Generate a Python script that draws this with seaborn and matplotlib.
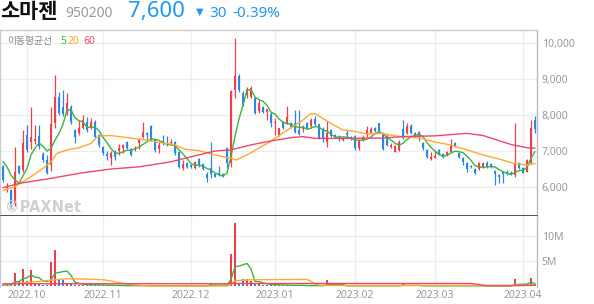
import numpy as np
import pandas as pd
import matplotlib
matplotlib.use("Agg")
import matplotlib.pyplot as plt
import seaborn as sns

# ---------------- data ----------------
opens = [6580, 5960, 5920, 5560, 6580, 6470, 7440, 7260, 7280, 7420,
         6910, 6750, 6610, 7770, 8490, 8230, 8090, 8230, 7580, 7490,
         7650, 7810, 7630, 7810, 7440, 7100, 6920, 6800, 6960, 7000,
         7090, 7240, 7050, 7050, 7230, 7380, 7510, 7700, 7310, 7050,
         7280, 7230, 7210, 7260, 6980, 6520, 6660, 6610, 6520, 6770,
         6640, 6360, 6520, 6350, 6400, 6360, 7090, 6660, 8690, 9090,
         8600, 8560, 8510, 8480, 8110, 8230, 8090, 8020, 7770, 7440,
         7800, 7770, 7770, 7770, 7580, 7600, 7770, 7690, 7900, 7740,
         7600, 7260, 7580, 7440, 7400, 7300, 7490, 7380, 7420, 7070,
         7300, 7440, 7510, 7630, 7770, 7510, 7420, 7100, 6980, 7030,
         7600, 7490, 7690, 7510, 7540, 7230, 7030, 6770, 6810, 7030,
         6920, 6890, 6980, 7210, 6950, 6800, 6680, 6580, 6490, 6490,
         6560, 6680, 6640, 6440, 6330, 6430, 6410, 6400, 6330, 6680,
         6520, 6430, 6660, 7860]
highs = [6620, 6100, 5950, 7100, 6620, 7580, 7720, 8230, 7720, 7720,
         6960, 6900, 8230, 9110, 8650, 8680, 8600, 8280, 7620, 7860,
         8000, 7950, 7920, 7860, 7480, 7130, 6990, 7000, 7030, 7190,
         7190, 7280, 7090, 7130, 7370, 7810, 7540, 7720, 7330, 7260,
         7450, 7410, 7330, 7280, 7000, 6750, 6700, 6640, 6720, 6800,
         6660, 6430, 7260, 6380, 6570, 6400, 7120, 8700, 10130, 9130,
         8660, 8780, 8800, 8500, 8410, 8260, 8170, 8090, 7910, 7650,
         7830, 8260, 7800, 8140, 8140, 7720, 7800, 7920, 7960, 7760,
         7670, 7840, 7620, 7480, 7450, 7380, 7580, 7410, 7450, 7330,
         7440, 7690, 7670, 7680, 7790, 7530, 7460, 7230, 7160, 7310,
         7860, 7780, 7740, 7540, 7560, 7260, 7060, 6980, 7020, 7050,
         6940, 7000, 7320, 7260, 6980, 6830, 6700, 6620, 6530, 6700,
         6700, 6720, 6660, 6470, 6350, 6450, 6460, 6440, 7770, 6700,
         6550, 6780, 7860, 7970]
lows = [6150, 5870, 5450, 5480, 6350, 6430, 6980, 7060, 7200, 7050,
        6700, 6350, 6450, 7650, 8000, 7960, 8000, 7760, 7230, 7440,
        7620, 7540, 7600, 7360, 7120, 6900, 6760, 6610, 6760, 6890,
        6950, 7050, 6850, 7000, 7060, 7350, 7300, 7290, 6980, 6940,
        7170, 7130, 7170, 6900, 6540, 6470, 6540, 6540, 6500, 6560,
        6470, 6150, 6260, 6270, 6300, 6290, 6540, 6560, 8460, 8640,
        8260, 8470, 8480, 8020, 8050, 8050, 7860, 7680, 7440, 7420,
        7600, 7740, 7650, 7500, 7440, 7540, 7620, 7650, 7700, 7320,
        7260, 7120, 7380, 7360, 7270, 7270, 7400, 7300, 7030, 7040,
        7280, 7400, 7490, 7530, 7490, 7020, 7130, 7080, 6960, 7000,
        7330, 7470, 7460, 7380, 7270, 7040, 6800, 6750, 6800, 6900,
        6800, 6870, 6960, 7100, 6800, 6600, 6420, 6530, 6350, 6470,
        6540, 6540, 6540, 6060, 6120, 6120, 6340, 6340, 6290, 6500,
        6380, 6420, 6640, 7510]
closes = [6200, 6010, 5500, 6430, 6380, 7230, 7030, 7400, 7320, 7140,
          6750, 6380, 7760, 8490, 8050, 8030, 8320, 7810, 7400, 7650,
          7860, 7580, 7810, 7400, 7170, 6935, 6860, 6950, 6840, 7070,
          7170, 7090, 6890, 7090, 7300, 7540, 7440, 7310, 7030, 7170,
          7210, 7190, 7260, 6935, 6560, 6640, 6560, 6560, 6700, 6580,
          6490, 6240, 6350, 6290, 6330, 6310, 6660, 8670, 9080, 8690,
          8300, 8720, 8740, 8050, 8320, 8070, 8170, 7770, 7810, 7630,
          7630, 7950, 7680, 7540, 7460, 7680, 7650, 7860, 7740, 7350,
          7320, 7490, 7420, 7380, 7320, 7350, 7440, 7320, 7070, 7300,
          7380, 7580, 7600, 7560, 7560, 7050, 7170, 7170, 7140, 7260,
          7350, 7690, 7490, 7400, 7380, 7070, 6820, 6840, 6860, 6920,
          6820, 6980, 7140, 7120, 6840, 6700, 6490, 6550, 6380, 6660,
          6660, 6560, 6560, 6360, 6290, 6360, 6360, 6360, 6680, 6520,
          6400, 6750, 7630, 7620]
volumes_m = [0.3, 0.25, 0.3, 2.7, 1.0, 3.4, 1.0, 3.2, 0.5, 0.5,
             0.3, 0.2, 4.8, 7.2, 1.2, 1.2, 0.7, 0.5, 0.3, 0.3,
             0.3, 0.25, 0.4, 0.25, 0.2, 0.2, 0.15, 0.15, 0.12, 0.12,
             0.12, 0.1, 0.1, 0.1, 0.1, 0.15, 0.1, 0.1, 0.1, 0.08,
             0.08, 0.08, 0.08, 0.08, 0.1, 0.08, 0.08, 0.08, 0.08, 0.08,
             0.08, 0.1, 0.7, 0.1, 0.08, 0.08, 0.1, 6.5, 12.7, 0.7,
             1.4, 1.4, 1.0, 0.4, 0.4, 0.3, 0.3, 0.4, 0.2, 0.15,
             0.15, 0.3, 0.12, 0.2, 0.15, 0.12, 0.1, 0.12, 0.1, 0.12,
             0.12, 1.2, 0.12, 0.1, 0.1, 0.08, 0.08, 0.08, 0.1, 0.1,
             0.08, 0.1, 0.08, 0.08, 0.08, 0.1, 0.08, 0.08, 0.08, 0.08,
             0.5, 0.1, 0.08, 0.08, 0.08, 0.08, 0.08, 0.08, 0.08, 0.08,
             0.08, 0.08, 0.1, 0.08, 0.08, 0.08, 0.08, 0.08, 0.08, 0.08,
             0.08, 0.08, 0.08, 0.08, 0.08, 0.08, 0.08, 0.08, 1.4, 0.2,
             0.2, 0.4, 1.7, 0.4]

# moving averages (sample positions, values)
ma5_head = [6710, 6560, 6330, 6200]   # first points of the 5-day line (need earlier history)
ma20_idx = [0, 3, 7, 10, 12, 13.5, 16, 19, 22, 23.4, 25, 27, 30.5, 35.5, 40.5, 43, 45.5, 49, 53,
            56.75, 58.4, 61.75, 66.75, 71.75, 75, 76.75, 78, 81.3, 84.7, 88, 91.3, 94.7, 98,
            101.3, 104.5, 107.6, 111.75, 116, 120, 124.25, 127.6, 131, 133]
ma20_val = [5900, 6010, 6290, 6520, 6700, 6935, 7030, 7090, 7210, 7380, 7420, 7430, 7380, 7310, 7210, 7170, 7050, 7010, 6890,
            6800, 6750, 6935, 7260, 7630, 7860, 8030, 8040, 7810, 7600, 7540, 7470, 7490, 7420,
            7390, 7350, 7260, 7170, 7030, 6890, 6770, 6660, 6610, 6650]
ma60_idx = [0, 4, 12, 19, 27, 34, 42, 47, 53, 57, 62, 67, 72, 75, 78, 85, 95, 100, 108, 116, 120, 127, 131, 133]
ma60_val = [5980, 6100, 6240, 6380, 6500, 6560, 6700, 6840, 7000, 7030, 7170, 7280, 7370, 7400, 7350, 7350,
            7360, 7400, 7420, 7490, 7430, 7180, 7090, 7080]
vma20_idx = [0, 4, 8, 12, 16, 22, 25, 28, 32, 37, 56, 57, 58, 62, 76, 77, 78, 80, 100, 128, 133]
vma20_val = [0.4, 0.6, 0.9, 1.2, 1.5, 1.4, 1.3, 0.9, 0.3, 0.05, 0.05, 0.4, 1.1, 1.3, 1.35, 1.0, 0.4, 0.15, 0.15, 0.2, 0.25]
vma60_idx = [0, 56, 57, 58, 117, 121, 127, 133]
vma60_val = [0.5, 0.5, 0.55, 0.55, 0.55, 0.1, 0.1, 0.2]

month_pos = [6, 25, 47, 68, 88, 108, 130]
month_labels = ["2022.10", "2022.11", "2022.12", "2023.01", "2023.02", "2023.03", "2023.04"]
price_ticks = [6000, 7000, 8000, 9000, 10000]
vol_ticks = [5, 10]

# ---------------- style ----------------
sns.set_theme(style="white")
plt.rcParams["font.family"] = ["Noto Sans", "Noto Sans CJK KR", "DejaVu Sans"]

RED = "#f23d4c"
BLUE = "#2a86ea"
C5 = "#3cb43c"
C20 = "#ffa92e"
C60 = "#f0466a"
GRID = "#eeeeee"
TXT = "#999999"

W, H = 594, 304
fig = plt.figure(figsize=(W / 100, H / 100), dpi=100)
fig.patch.set_facecolor("white")

def fx(px):
    return px / W

def fy(py):
    return 1 - py / H

ax = fig.add_axes([0, fy(216), fx(537), fy(30) - fy(216)])
axv = fig.add_axes([0, fy(287), fx(537), fy(216) - fy(287)])

n = len(closes)
x = np.arange(n)
df = pd.DataFrame({"x": x, "open": opens, "high": highs, "low": lows,
                   "close": closes, "vol": volumes_m})
df["up"] = df["close"] >= df["open"]
df["color"] = np.where(df["up"], RED, BLUE)
ma5 = df["close"].rolling(5, min_periods=1).mean().to_numpy()
ma5[:len(ma5_head)] = ma5_head
df["ma5"] = ma5
df["vma5"] = df["vol"].rolling(5, min_periods=1).mean()

# grid
for a in (ax, axv):
    for p in month_pos:
        a.axvline(p, color=GRID, lw=1.0, zorder=0)
for t in price_ticks:
    ax.axhline(t, color=GRID, lw=1.0, zorder=0)
for t in vol_ticks:
    axv.axhline(t, color=GRID, lw=1.0, zorder=0)

# candles
body_lo = np.minimum(df["open"], df["close"])
body_h = np.maximum(np.abs(df["close"] - df["open"]), 25)
ax.vlines(df["x"], df["low"], df["high"], colors=df["color"], lw=0.9, zorder=3)
ax.bar(df["x"], body_h, bottom=body_lo, width=0.72, color=df["color"], linewidth=0, zorder=3)

# moving averages
sns.lineplot(x=df["x"], y=df["ma5"], ax=ax, color=C5, lw=1.0, zorder=4, estimator=None)
sns.lineplot(x=ma20_idx, y=ma20_val, ax=ax, color=C20, lw=1.0, zorder=4, estimator=None)
sns.lineplot(x=ma60_idx, y=ma60_val, ax=ax, color=C60, lw=1.0, zorder=4, estimator=None)

# volume
axv.bar(df["x"], df["vol"], width=0.72, color=df["color"], linewidth=0, zorder=3)
sns.lineplot(x=df["x"], y=df["vma5"], ax=axv, color=C5, lw=1.0, zorder=4, estimator=None)
sns.lineplot(x=vma20_idx, y=vma20_val, ax=axv, color=C20, lw=1.0, zorder=4, estimator=None)
sns.lineplot(x=vma60_idx, y=vma60_val, ax=axv, color=C60, lw=1.0, zorder=4, estimator=None)

# axes limits
for a in (ax, axv):
    a.set_xlim(-0.75, 133.5)
    a.set_xlabel("")
    a.set_ylabel("")
ax.set_ylim(5195, 10360)
axv.set_ylim(-0.15, 14.0)

# ticks
ax.yaxis.tick_right()
ax.set_yticks(price_ticks)
ax.set_yticklabels([f"{t:,}" for t in price_ticks])
ax.tick_params(axis="y", length=0, pad=3.5, labelsize=7.5, labelcolor=TXT)
ax.set_xticks([])
axv.yaxis.tick_right()
axv.set_yticks(vol_ticks)
axv.set_yticklabels([f"{t}M" for t in vol_ticks])
axv.tick_params(axis="y", length=0, pad=3.5, labelsize=7.5, labelcolor=TXT)
axv.set_xticks(month_pos)
axv.set_xticklabels(month_labels)
axv.tick_params(axis="x", length=0, pad=2.0, labelsize=7.5, labelcolor=TXT)

# spines
for a in (ax, axv):
    for s in ("left", "right", "top", "bottom"):
        a.spines[s].set_visible(True)
        a.spines[s].set_color("#cccccc")
        a.spines[s].set_linewidth(1.0)
ax.spines["bottom"].set_color("#333333")
ax.spines["bottom"].set_linewidth(1.2)
axv.spines["top"].set_visible(False)
axv.spines["bottom"].set_visible(False)
ax.spines["right"].set_color("#bbbbbb")
axv.spines["right"].set_color("#bbbbbb")

# legend text
fig.text(fx(7), fy(41), "이동평균선", color="#888888", fontsize=7, va="center", ha="left",
         family=["Noto Sans CJK KR"])
fig.text(fx(60), fy(41), "5", color=C5, fontsize=7.5, va="center", ha="left")
fig.text(fx(68), fy(41), "20", color=C20, fontsize=7.5, va="center", ha="left")
fig.text(fx(83), fy(41), "60", color=C60, fontsize=7.5, va="center", ha="left")

# watermark
fig.text(fx(5), fy(212), "©PAXNet", color="#d0d0d0", fontsize=10.5, fontweight="bold",
         va="baseline", ha="left", family=["DejaVu Sans"])

# header
fig.text(fx(0), fy(18), "소마젠", color="#111111", fontsize=15, fontweight="bold",
         va="baseline", ha="left", family=["Noto Sans CJK KR"])
fig.text(fx(65), fy(17), "950200", color="#999999", fontsize=10, va="baseline", ha="left")
fig.text(fx(128), fy(17), "7,600", color="#2196f3", fontsize=16, va="baseline", ha="left")
fig.text(fx(196), fy(15), "▼", color="#2196f3", fontsize=7, va="baseline", ha="left",
         family=["DejaVu Sans"])
fig.text(fx(209), fy(17), "30", color="#2196f3", fontsize=11, va="baseline", ha="left")
fig.text(fx(232), fy(17), "-0.39%", color="#2196f3", fontsize=11, va="baseline", ha="left")

fig.savefig("out.png", dpi=100, facecolor="white")
